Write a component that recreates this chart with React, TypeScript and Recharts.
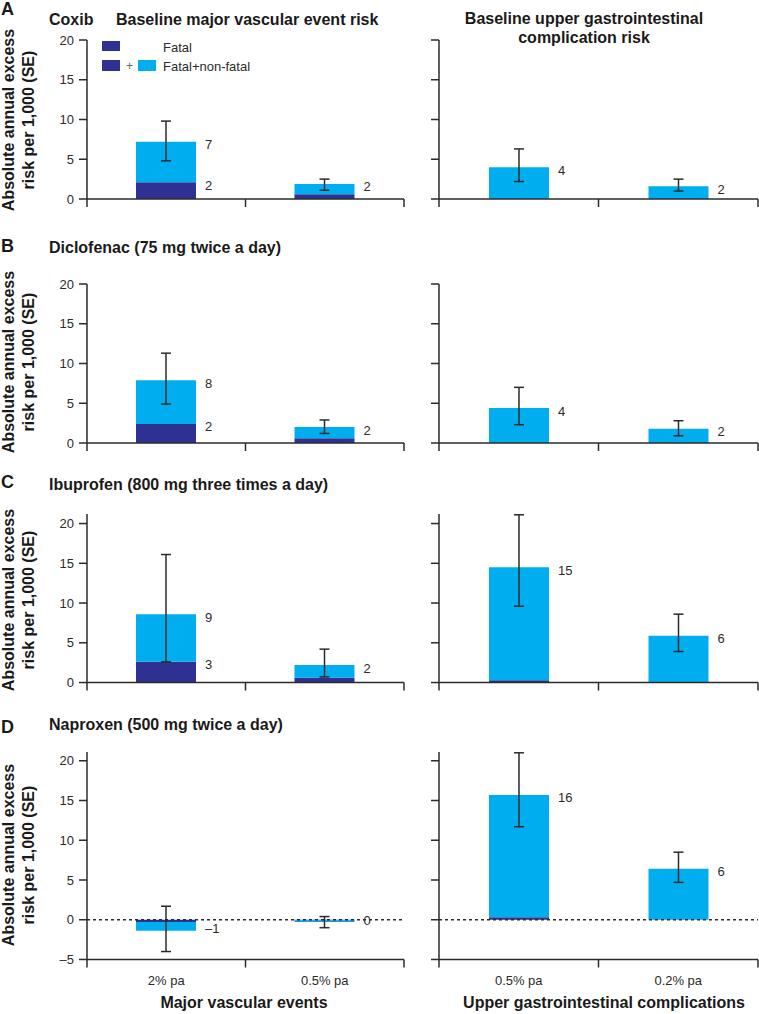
import React from "react";
import { BarChart, Bar, XAxis, YAxis, ErrorBar, LabelList, ReferenceLine } from "recharts";

const DARK = "#2e3192";
const LIGHT = "#00aeef";
const INK = "#2b2b2b";
const FONT = "'Liberation Sans', Arial, Helvetica, sans-serif";
const PX_PER_UNIT = 7.95;

const vascularLevels = ["2% pa", "0.5% pa"];
const giLevels = ["0.5% pa", "0.2% pa"];

// every array: [vascular 2% pa, vascular 0.5% pa, GI 0.5% pa, GI 0.2% pa]
const coxibTotal = [7.2, 1.9, 4.0, 1.6];
const coxibFatal = [2.1, 0.6, 0, 0];
const coxibLow = [4.8, 1.1, 2.2, 1.0];
const coxibHigh = [9.8, 2.5, 6.3, 2.5];
const coxibLabels = ["7", "2", "4", "2"];
const coxibFatalLabels = ["2", "", "", ""];

const diclofenacTotal = [7.9, 2.0, 4.4, 1.8];
const diclofenacFatal = [2.4, 0.6, 0, 0];
const diclofenacLow = [4.9, 1.2, 2.3, 0.9];
const diclofenacHigh = [11.3, 2.9, 7.0, 2.8];
const diclofenacLabels = ["8", "2", "4", "2"];
const diclofenacFatalLabels = ["2", "", "", ""];

const ibuprofenTotal = [8.6, 2.2, 14.5, 5.9];
const ibuprofenFatal = [2.6, 0.6, 0.3, 0];
const ibuprofenLow = [2.6, 0.7, 9.6, 3.9];
const ibuprofenHigh = [16.1, 4.2, 21.1, 8.6];
const ibuprofenLabels = ["9", "2", "15", "6"];
const ibuprofenFatalLabels = ["3", "", "", ""];

const naproxenTotal = [-1.4, -0.3, 15.7, 6.4];
const naproxenFatal = [-0.3, -0.1, 0.3, 0];
const naproxenLow = [-4.0, -1.0, 11.7, 4.7];
const naproxenHigh = [1.7, 0.4, 21.0, 8.5];
const naproxenLabels = ["\u20131", "0", "16", "6"];
const naproxenFatalLabels = ["", "", "", ""];

const positiveTicks = [0, 5, 10, 15, 20];
const naproxenTicks = [-5, 0, 5, 10, 15, 20];

type Series = {
  total: number[];
  fatal: number[];
  low: number[];
  high: number[];
  labels: string[];
  fatalLabels: string[];
};

type Row = {
  letter: string;
  title: string;
  series: Series;
  domain: [number, number];
  ticks: number[];
  zeroY: number;
  letterY: number;
  titleY: number;
  yLabelY: number;
};

const rows: Row[] = [
  {
    letter: "A",
    title: "Coxib",
    series: { total: coxibTotal, fatal: coxibFatal, low: coxibLow, high: coxibHigh, labels: coxibLabels, fatalLabels: coxibFatalLabels },
    domain: [0, 20],
    ticks: positiveTicks,
    zeroY: 199,
    letterY: 15,
    titleY: 24.5,
    yLabelY: 120,
  },
  {
    letter: "B",
    title: "Diclofenac (75 mg twice a day)",
    series: { total: diclofenacTotal, fatal: diclofenacFatal, low: diclofenacLow, high: diclofenacHigh, labels: diclofenacLabels, fatalLabels: diclofenacFatalLabels },
    domain: [0, 20],
    ticks: positiveTicks,
    zeroY: 443,
    letterY: 252,
    titleY: 253,
    yLabelY: 362,
  },
  {
    letter: "C",
    title: "Ibuprofen (800 mg three times a day)",
    series: { total: ibuprofenTotal, fatal: ibuprofenFatal, low: ibuprofenLow, high: ibuprofenHigh, labels: ibuprofenLabels, fatalLabels: ibuprofenFatalLabels },
    domain: [0, 21.2],
    ticks: positiveTicks,
    zeroY: 683,
    letterY: 488,
    titleY: 490,
    yLabelY: 600,
  },
  {
    letter: "D",
    title: "Naproxen (500 mg twice a day)",
    series: { total: naproxenTotal, fatal: naproxenFatal, low: naproxenLow, high: naproxenHigh, labels: naproxenLabels, fatalLabels: naproxenFatalLabels },
    domain: [-5, 21.1],
    ticks: naproxenTicks,
    zeroY: 920,
    letterY: 733,
    titleY: 730,
    yLabelY: 855,
  },
];

function buildData(s: Series, from: number) {
  return [0, 1].map((i) => {
    const k = from + i;
    return {
      x: i + 0.5,
      total: s.total[k],
      fatal: s.fatal[k],
      nonFatal: s.total[k] - s.fatal[k],
      err: [s.total[k] - s.low[k], s.high[k] - s.total[k]],
      label: s.labels[k],
      fatalLabel: s.fatalLabels[k],
    };
  });
}

const tickFmt = (v: number) => (v < 0 ? `\u2013${Math.abs(v)}` : `${v}`);
const noText = () => "";

function valueLabel(data: any[]) {
  return (props: any) => {
    const { value, index } = props;
    if (value === "" || value == null) return null;
    const vb = props.viewBox ?? props;
    const { x, y, width, height } = vb;
    const neg = data[index] && data[index].total < 0;
    const end = neg ? Math.max(y, y + height) : Math.min(y, y + height);
    return (
      <text
        x={x + width + 9}
        y={end + (neg ? -2 : 3)}
        dy="0.35em"
        fontSize={13}
        fontFamily={FONT}
        fill={INK}
      >
        {value}
      </text>
    );
  };
}

function PanelChart({ row, side, isLast }: { row: Row; side: "left" | "right"; isLast: boolean }) {
  const left = side === "left";
  const data = buildData(row.series, left ? 0 : 2);
  const levels = left ? vascularLevels : giLevels;
  const mTop = 8;
  const plotH = (row.domain[1] - row.domain[0]) * PX_PER_UNIT;
  const labelAxisH = isLast ? 30 : 0;
  const height = mTop + plotH + 10 + labelAxisH + 2;
  const top = row.zeroY - row.domain[1] * PX_PER_UNIT - mTop;
  const width = left ? 412 : 379;

  return (
    <div style={{ position: "absolute", left: left ? 0 : 380, top, width, height }}>
      <BarChart
        width={width}
        height={height}
        data={data}
        barSize={60}
        margin={{ top: mTop, right: left ? 8 : 1, left: 0, bottom: 2 }}
      >
        <XAxis
          xAxisId="b"
          type="number"
          dataKey="x"
          domain={[0, 2]}
          ticks={[0, 1, 2]}
          tickFormatter={noText}
          tickSize={8}
          height={10}
          stroke={INK}
          strokeWidth={1.5}
        />
        {isLast && (
          <XAxis
            xAxisId="l"
            type="number"
            dataKey="x"
            domain={[0, 2]}
            ticks={[0.5, 1.5]}
            allowDataOverflow
            axisLine={false}
            tickLine={false}
            tickSize={0}
            tickMargin={6}
            height={labelAxisH}
            tickFormatter={(v: number) => levels[Math.floor(v)]}
            tick={{ fill: INK, fontSize: 13, fontFamily: FONT }}
          />
        )}
        <YAxis
          type="number"
          domain={row.domain}
          ticks={row.ticks}
          allowDataOverflow
          width={left ? 87 : 59}
          tickSize={8}
          tickMargin={5}
          stroke={INK}
          strokeWidth={1.5}
          tickFormatter={left ? tickFmt : noText}
          tick={{ fill: INK, fontSize: 13, fontFamily: FONT }}
        />
        <Bar xAxisId="b" dataKey="fatal" stackId="s" fill={DARK} isAnimationActive={false}>
          <LabelList dataKey="fatalLabel" content={valueLabel(data)} />
        </Bar>
        <Bar xAxisId="b" dataKey="nonFatal" stackId="s" fill={LIGHT} isAnimationActive={false}>
          <ErrorBar dataKey="err" width={5} stroke={INK} strokeWidth={1.5} direction="y" />
          <LabelList dataKey="label" content={valueLabel(data)} />
        </Bar>
        {row.domain[0] < 0 && (
          <ReferenceLine xAxisId="b" y={0} stroke={INK} strokeDasharray="3 3" strokeWidth={1.5} />
        )}
      </BarChart>
    </div>
  );
}

export default function App() {
  const bold = { fontFamily: FONT, fontWeight: 700, fill: "#1a1a1a" } as const;
  return (
    <div style={{ position: "absolute", left: 0, top: 0, width: 759, height: 1014, background: "#fff" }}>
      {rows.map((row, i) => (
        <React.Fragment key={row.letter}>
          <PanelChart row={row} side="left" isLast={i === rows.length - 1} />
          <PanelChart row={row} side="right" isLast={i === rows.length - 1} />
        </React.Fragment>
      ))}
      <svg width={759} height={1014} style={{ position: "absolute", left: 0, top: 0, pointerEvents: "none" }}>
        {rows.map((row) => (
          <g key={row.letter}>
            <text x={1} y={row.letterY} fontSize={18} {...bold}>
              {row.letter}
            </text>
            <text x={49} y={row.titleY} fontSize={16} {...bold}>
              {row.title}
            </text>
            <g transform={`translate(14, ${row.yLabelY}) rotate(-90)`}>
              <text x={0} y={0} textAnchor="middle" fontSize={16} {...bold}>
                Absolute annual excess
              </text>
              <text x={0} y={20} textAnchor="middle" fontSize={16} {...bold}>
                risk per 1,000 (SE)
              </text>
            </g>
          </g>
        ))}
        <text x={116} y={24.5} fontSize={16} {...bold}>
          Baseline major vascular event risk
        </text>
        <text x={584} y={24} textAnchor="middle" fontSize={16} {...bold}>
          Baseline upper gastrointestinal
        </text>
        <text x={584} y={43} textAnchor="middle" fontSize={16} {...bold}>
          complication risk
        </text>

        <rect x={102} y={41} width={18} height={10} fill={DARK} />
        <text x={163} y={51.5} fontSize={13} fontFamily={FONT} fill={INK}>
          Fatal
        </text>
        <rect x={102} y={60} width={18} height={11} fill={DARK} />
        <text x={129.5} y={70} textAnchor="middle" fontSize={12} fontFamily={FONT} fill="#666">
          +
        </text>
        <rect x={138} y={60} width={18} height={11} fill={LIGHT} />
        <text x={163} y={71} fontSize={13} fontFamily={FONT} fill={INK}>
          Fatal+non-fatal
        </text>

        <text x={244} y={1008} textAnchor="middle" fontSize={16} {...bold}>
          Major vascular events
        </text>
        <text x={604} y={1008} textAnchor="middle" fontSize={16} {...bold}>
          Upper gastrointestinal complications
        </text>
      </svg>
    </div>
  );
}
